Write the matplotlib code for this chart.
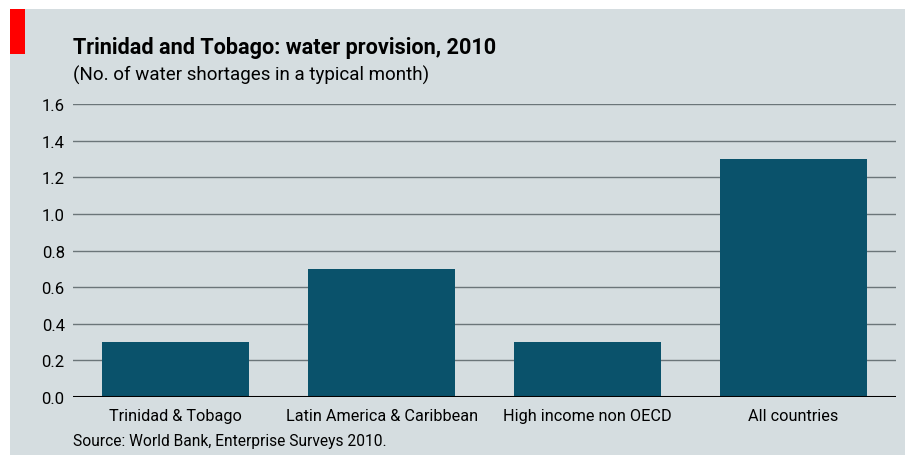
import matplotlib
matplotlib.use("Agg")
import matplotlib.pyplot as plt
from matplotlib.patches import Rectangle

# Data
categories = ["Trinidad & Tobago", "Latin America & Caribbean",
              "High income non OECD", "All countries"]
shortages = [0.3, 0.7, 0.3, 1.3]
y_ticks = [0.0, 0.2, 0.4, 0.6, 0.8, 1.0, 1.2, 1.4, 1.6]

BG = "#d5dde0"
BAR = "#0a526b"
GRID = "#6b7579"

plt.rcParams["font.family"] = ["Roboto", "DejaVu Sans"]

fig = plt.figure(figsize=(9.05, 4.56), dpi=100)
fig.patch.set_facecolor("white")

# grey panel and red tag
fig.patches.append(Rectangle((10 / 905, 0), 895 / 905, 446 / 456,
                             transform=fig.transFigure, facecolor=BG,
                             edgecolor="none", zorder=-10))
fig.patches.append(Rectangle((10 / 905, 1 - 55 / 456), 15 / 905, 45 / 456,
                             transform=fig.transFigure, facecolor="#ff0000",
                             edgecolor="none", zorder=-5))

ax = fig.add_axes([73 / 905, 1 - 398 / 456, 823 / 905, 293 / 456])
ax.set_facecolor("none")

x = range(len(categories))
ax.bar(x, shortages, width=0.715, color=BAR, zorder=3)

ax.set_xlim(-0.5, 3.5)
ax.set_ylim(0, 1.6)
ax.set_yticks(y_ticks)
ax.set_yticklabels([f"{v:.1f}" for v in y_ticks], fontsize=12)
ax.set_xticks(list(x))
ax.set_xticklabels(categories, fontsize=11.7)
ax.tick_params(axis="both", length=0, colors="black")
ax.tick_params(axis="y", pad=6)
ax.tick_params(axis="x", pad=8)

for v in y_ticks[1:]:
    ax.axhline(v, color=GRID, linewidth=1.0, zorder=1)
ax.axhline(0, color="black", linewidth=2.2, zorder=4)

for s in ax.spines.values():
    s.set_visible(False)

fig.text(73 / 905, 1 - 48 / 456, "Trinidad and Tobago: water provision, 2010",
         fontsize=15.6, fontweight="bold", va="center", ha="left")
fig.text(73 / 905, 1 - 75 / 456, "(No. of water shortages in a typical month)",
         fontsize=13.5, va="center", ha="left")
fig.text(73 / 905, 1 - 442 / 456, "Source: World Bank, Enterprise Surveys 2010.",
         fontsize=11.2, va="center", ha="left")

fig.savefig("out.png", dpi=100, facecolor=fig.get_facecolor())
